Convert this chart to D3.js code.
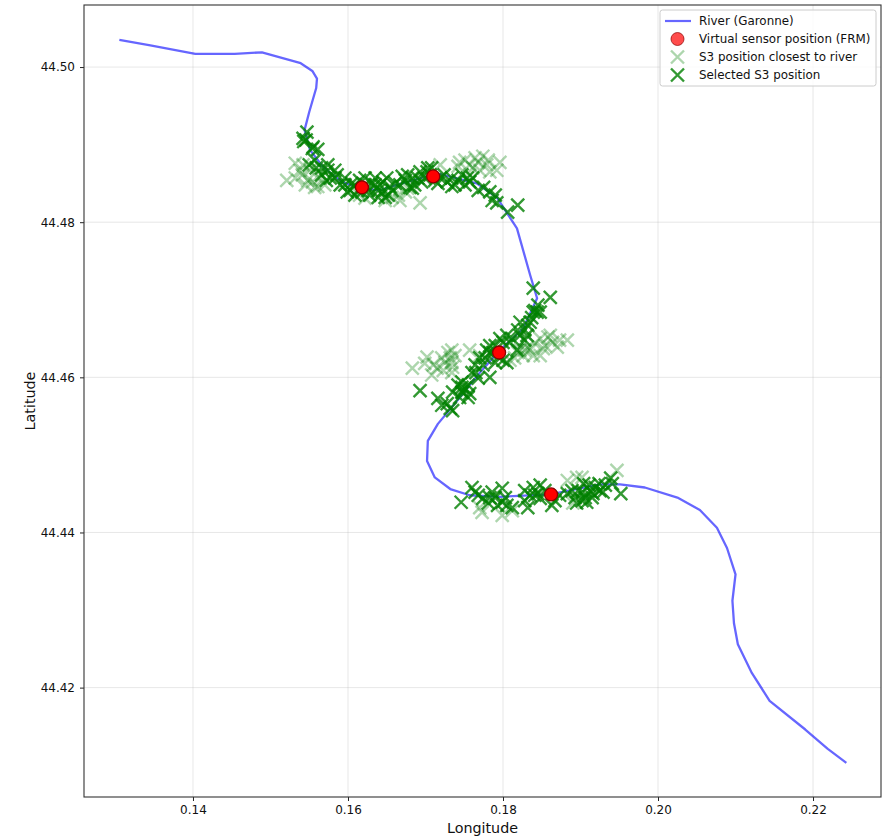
<!DOCTYPE html>
<html>
<head>
<meta charset="utf-8">
<script src="https://cdn.jsdelivr.net/npm/d3@7"></script>
<style>
  html, body { margin: 0; padding: 0; background: #fff; }
  svg { display: block; }
  text { font-family: "DejaVu Sans", sans-serif; fill: #111; }
</style>
</head>
<body>
<div id="chart"></div>
<script>
// river course, lon/lat
var riverLon = [.1305,.1345,.1403,.1454,.1489,.1539,.1554,.1560,.1559,.1550,.1544,.1551,.1568,.1592,.1615,.1641,.1663,.1715,.1766,.1792,.1818,.1835,.1844,.1826,.1796,.1770,.1741,.1716,.1703,.1702,.1712,.1732,.1757,.1796,.1861,.1925,.1951,.1983,.2025,.2054,.2076,.2089,.2100,.2096,.2098,.2103,.2121,.2144,.2190,.2219,.2243];
var riverLat = [44.5035,44.5028,44.5017,44.5017,44.5019,44.5005,44.4995,44.4985,44.4973,44.4942,44.4919,44.4893,44.4871,44.4852,44.4844,44.4841,44.4848,44.4863,44.4850,44.4832,44.4792,44.4732,44.4702,44.4663,44.4635,44.4606,44.4570,44.4540,44.4518,44.4492,44.4471,44.4456,44.4448,44.4446,44.4449,44.4462,44.4462,44.4458,44.4445,44.4429,44.4406,44.4380,44.4346,44.4312,44.4283,44.4256,44.4219,44.4183,44.4146,44.4121,44.4103];

var sensorLon = [.1618,.1710,.1795,.1862];
var sensorLat = [44.4845,44.4859,44.4632,44.4449];

var closestLon = [.1521,.1532,.1541,.1545,.1551,.1557,.1570,.1538,.1548,.1564,.1657,.1665,.1693,.1677,.1719,.1744,.1751,.1757,.1764,.1774,.1770,.1757,.1783,.1796,.1792,.1615,.1622,
  .1532,.1542,.1554,.1561,.1648,.1667,.1674,.1742,.1761,.1768,.1779,.1781,
  .1683,.1702,.1699,.1710,.1708,.1721,.1734,.1732,.1735,.1723,.1734,.1757,.1883,.1870,.1858,.1848,.1852,.1839,.1826,.1815,.1770,.1864,.1832,.1841,.1822,.1809,
  .1854,.1861,.1835,.1828,.1848,.1819,.1873,.1738,.1729,.1715,.1725,.1734,
  .1773,.1799,.1883,.1895,.1947,.1812,.1770,.1890,.1902];
var closestLat = [44.4854,44.4876,44.4861,44.4848,44.4867,44.4845,44.4848,44.4867,44.4854,44.4857,44.4832,44.4835,44.4825,44.4844,44.4874,44.4877,44.4880,44.4874,44.4883,44.4885,44.4867,44.4861,44.4865,44.4877,44.4867,44.4835,44.4831,
  44.4857,44.4874,44.4852,44.4846,44.4828,44.4828,44.4839,44.4872,44.4870,44.4877,44.4874,44.4880,
  44.4612,44.4626,44.4618,44.4616,44.4603,44.4625,44.4635,44.4625,44.4613,44.4609,44.4606,44.4635,44.4648,44.4639,44.4652,44.4650,44.4637,44.4628,44.4628,44.4625,44.4628,44.4645,44.4639,44.4644,44.4635,44.4622,
  44.4641,44.4654,44.4635,44.4635,44.4628,44.4632,44.4648,44.4628,44.4632,44.4612,44.4619,44.4619,
  44.4426,44.4422,44.4467,44.4471,44.4480,44.4428,44.4432,44.4438,44.4471];

var selectedLon = [.1547,.1542,.1543,.1555,.1561,.1550,.1559,.1566,.1574,.1583,.1577,.1572,.1586,.1596,.1603,.1609,.1615,.1622,.1626,.1618,.1631,.1639,.1644,.1650,.1654,.1652,.1661,.1670,.1674,.1680,.1683,.1690,.1695,.1703,.1706,.1702,.1712,.1719,.1728,.1734,.1738,.1747,.1757,.1761,.1768,.1783,.1790,.1792,.1806,.1819,
  .1596,.1605,.1613,.1609,.1599,.1622,.1628,.1635,.1641,.1648,.1657,.1639,.1645,.1635,.1590,.1583,.1566,.1574,.1557,.1554,.1546,.1667,.1677,.1686,.1699,.1708,.1716,.1724,.1742,.1751,.1734,.1754,.1775,.1786,.1693,.1683,
  .1839,.1861,.1845,.1844,.1837,.1822,.1832,.1831,.1805,.1796,.1812,.1783,.1818,.1779,.1770,.1764,.1790,.1805,.1783,.1768,.1693,.1747,.1735,.1748,.1755,.1716,.1728,.1735,.1721,.1732,.1747,.1757,.1774,.1787,.1828,.1841,
  .1747,.1742,.1751,.1760,.1765,.1777,.1783,.1790,.1800,.1794,.1809,.1819,.1835,.1839,.1848,.1828,.1822,.1800,.1755,.1744,
  .1746,.1760,.1764,.1774,.1786,.1799,.1781,.1799,.1805,.1812,.1828,.1828,.1832,.1839,.1848,.1845,.1863,.1883,.1895,.1908,.1903,.1911,.1924,.1929,.1939,.1952,.1916,.1904,
  .1790,.1803,.1793,.1783,.1835,.1841,.1854,.1873,.1889,.1897,.1906,.1912,.1919,.1925,.1932,.1941,.1893,.1902,.1915,.1867,.1768,.1848];
var selectedLat = [44.4916,44.4908,44.4904,44.4897,44.4894,44.4874,44.4870,44.4870,44.4867,44.4867,44.4857,44.4854,44.4861,44.4857,44.4841,44.4848,44.4854,44.4857,44.4841,44.4839,44.4850,44.4841,44.4839,44.4857,44.4846,44.4835,44.4850,44.4859,44.4854,44.4845,44.4857,44.4857,44.4852,44.4870,44.4861,44.4865,44.4854,44.4857,44.4852,44.4857,44.4848,44.4861,44.4852,44.4857,44.4841,44.4839,44.4835,44.4825,44.4813,44.4822,
  44.4848,44.4850,44.4841,44.4835,44.4839,44.4848,44.4835,44.4848,44.4848,44.4832,44.4841,44.4832,44.4852,44.4857,44.4848,44.4857,44.4861,44.4874,44.4880,44.4895,44.4906,44.4848,44.4861,44.4848,44.4857,44.4870,44.4850,44.4861,44.4854,44.4848,44.4846,44.4857,44.4845,44.4828,44.4865,44.4844,
  44.4715,44.4703,44.4693,44.4684,44.4677,44.4671,44.4667,44.4654,44.4654,44.4650,44.4650,44.4641,44.4635,44.4635,44.4625,44.4616,44.4619,44.4619,44.4600,44.4599,44.4583,44.4594,44.4581,44.4581,44.4574,44.4573,44.4566,44.4557,44.4564,44.4560,44.4587,44.4579,44.4616,44.4632,44.4661,44.4686,
  44.4581,44.4590,44.4586,44.4606,44.4606,44.4625,44.4632,44.4641,44.4645,44.4626,44.4645,44.4661,44.4671,44.4684,44.4684,44.4648,44.4654,44.4622,44.4590,44.4574,
  44.4439,44.4458,44.4452,44.4444,44.4452,44.4457,44.4438,44.4439,44.4435,44.4432,44.4454,44.4441,44.4432,44.4458,44.4461,44.4450,44.4435,44.4450,44.4438,44.4439,44.4452,44.4461,44.4463,44.4452,44.4470,44.4450,44.4450,44.4463,
  44.4445,44.4445,44.4435,44.4445,44.4448,44.4448,44.4454,44.4448,44.4454,44.4454,44.4445,44.4454,44.4458,44.4454,44.4461,44.4463,44.4445,44.4441,44.4445,44.4441,44.4448,44.4444];

var xTicks = [0.14, 0.16, 0.18, 0.20, 0.22];
var yTicks = [44.42, 44.44, 44.46, 44.48, 44.50];

var width = 884, height = 836;
var margin = {top: 5, right: 3, bottom: 39, left: 84};
var chartWidth = width - margin.left - margin.right,
    chartHeight = height - margin.top - margin.bottom;

var svg = d3.select('#chart').append('svg').attr('width', width).attr('height', height);
var g = svg.append('g').attr('transform', 'translate(' + margin.left + ',' + margin.top + ')');

var x = d3.scaleLinear().domain([0.12594, 0.22877]).range([0, chartWidth]);
var y = d3.scaleLinear().domain([44.4059, 44.5080]).range([chartHeight, 0]);

// grid
g.selectAll('line.gx').data(xTicks).enter().append('line')
  .attr('x1', d => x(d)).attr('x2', d => x(d)).attr('y1', 0).attr('y2', chartHeight)
  .attr('stroke', '#b0b0b0').attr('stroke-opacity', 0.3);
g.selectAll('line.gy').data(yTicks).enter().append('line')
  .attr('y1', d => y(d)).attr('y2', d => y(d)).attr('x1', 0).attr('x2', chartWidth)
  .attr('stroke', '#b0b0b0').attr('stroke-opacity', 0.3);

var crossPath = 'M-6.5,-6.5L6.5,6.5M-6.5,6.5L6.5,-6.5';

function crosses(lons, lats, opacity) {
  g.append('g').selectAll('path').data(lons).enter().append('path')
    .attr('d', crossPath)
    .attr('transform', (d, i) => 'translate(' + x(d) + ',' + y(lats[i]) + ')')
    .attr('fill', 'none').attr('stroke', 'green')
    .attr('stroke-width', 2.4).attr('stroke-opacity', opacity);
}

// river first, the crosses sit on top of it
var riverPts = riverLon.map((d, i) => [d, riverLat[i]]);
g.append('path')
  .attr('d', d3.line().x(d => x(d[0])).y(d => y(d[1]))(riverPts))
  .attr('fill', 'none').attr('stroke', 'blue').attr('stroke-opacity', 0.6)
  .attr('stroke-width', 2.3).attr('stroke-linejoin', 'round');

crosses(closestLon, closestLat, 0.32);
crosses(selectedLon, selectedLat, 0.8);

g.selectAll('circle.sensor').data(sensorLon).enter().append('circle')
  .attr('class', 'sensor')
  .attr('cx', d => x(d)).attr('cy', (d, i) => y(sensorLat[i])).attr('r', 6.5)
  .attr('fill', 'red').attr('stroke', 'darkred').attr('stroke-width', 1.3);

// axes
var xAxis = g.append('g').attr('transform', 'translate(0,' + chartHeight + ')')
  .call(d3.axisBottom(x).tickValues(xTicks).tickFormat(d3.format('.2f')).tickSizeOuter(0).tickSize(4).tickPadding(4));
var yAxis = g.append('g')
  .call(d3.axisLeft(y).tickValues(yTicks).tickFormat(d3.format('.2f')).tickSizeOuter(0).tickSize(4).tickPadding(5));
[xAxis, yAxis].forEach(a => {
  a.selectAll('.domain').remove();
  a.selectAll('text').style('font-size', '12px').style('font-family', '"DejaVu Sans", sans-serif').attr('fill', '#111');
  a.selectAll('line').attr('stroke', '#222');
});

g.append('rect').attr('width', chartWidth).attr('height', chartHeight)
  .attr('fill', 'none').attr('stroke', '#333').attr('stroke-width', 1.1);

svg.append('text').attr('x', margin.left + chartWidth / 2).attr('y', 833)
  .attr('text-anchor', 'middle').style('font-size', '14.3px').text('Longitude');
svg.append('text').attr('transform', 'translate(35,' + (margin.top + chartHeight / 2) + ') rotate(-90)')
  .attr('text-anchor', 'middle').style('font-size', '14.3px').text('Latitude');

// legend
var legendLabels = ['River (Garonne)', 'Virtual sensor position (FRM)', 'S3 position closest to river', 'Selected S3 position'];
var legend = svg.append('g').attr('transform', 'translate(660,10)');
legend.append('rect').attr('width', 216).attr('height', 76).attr('rx', 2.5)
  .attr('fill', '#fff').attr('fill-opacity', 0.8).attr('stroke', '#ccc');
legendLabels.forEach(function(label, i) {
  var row = legend.append('g').attr('transform', 'translate(0,' + (11 + i * 18) + ')');
  row.append('text').attr('x', 39).attr('y', 4).style('font-size', '11.9px').text(label);
  if (i == 0) {
    row.append('line').attr('x1', 5).attr('x2', 31).attr('stroke', 'blue').attr('stroke-opacity', 0.6).attr('stroke-width', 2.2);
  } else if (i == 1) {
    row.append('circle').attr('cx', 17.5).attr('r', 6.5).attr('fill', 'red').attr('fill-opacity', 0.7).attr('stroke', 'darkred').attr('stroke-opacity', 0.7);
  } else {
    row.append('path').attr('d', crossPath).attr('transform', 'translate(17.5,0)')
      .attr('fill', 'none').attr('stroke', 'green').attr('stroke-width', 2.4).attr('stroke-opacity', i == 2 ? 0.32 : 0.8);
  }
});
</script>
</body>
</html>
